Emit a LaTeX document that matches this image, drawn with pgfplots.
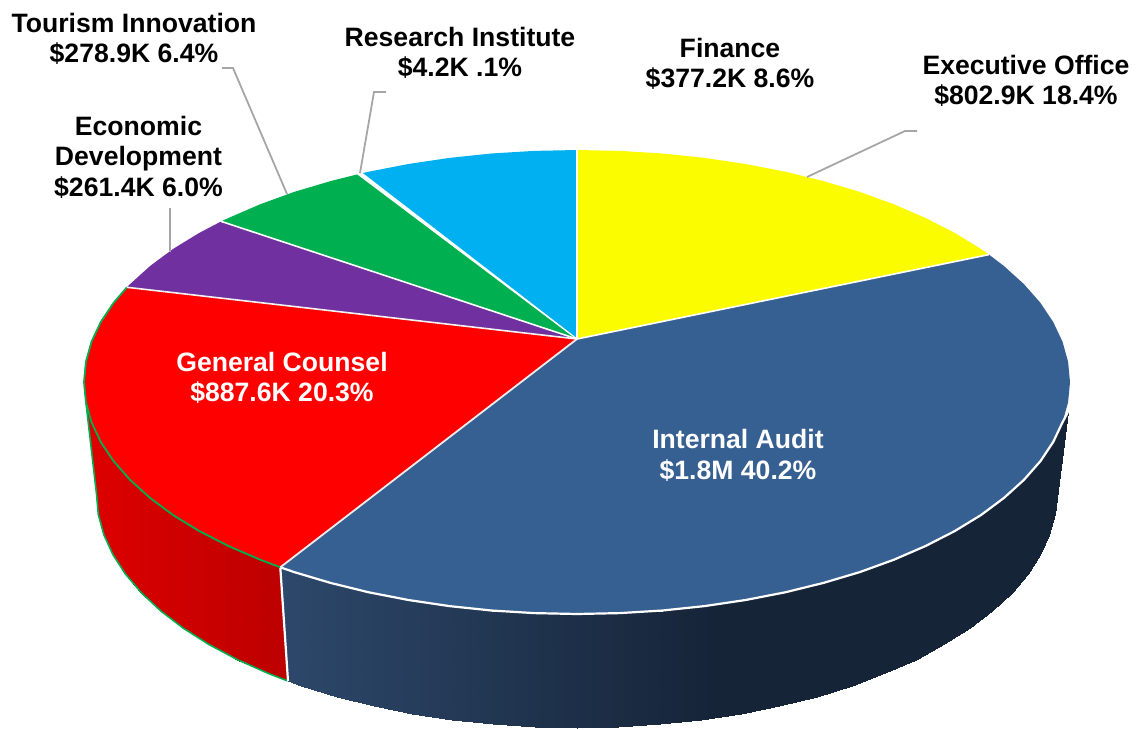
\documentclass[border=0pt]{standalone}
\usepackage{pgfplots}
\pgfplotsset{compat=1.18}
\usepackage{fontspec}
\setmainfont{Liberation Sans}
\definecolor{cYel}{RGB}{252,252,0}
\definecolor{cAud}{RGB}{55,96,146}
\definecolor{cRed}{RGB}{255,0,0}
\definecolor{cPur}{RGB}{112,48,160}
\definecolor{cGrn}{RGB}{0,176,80}
\definecolor{cBlu}{RGB}{0,176,240}
\definecolor{cLead}{RGB}{166,166,166}
\tikzset{lb/.style={align=center, inner sep=0pt, outer sep=0pt, font=\fontsize{26.6}{30.5}\selectfont\bfseries}}
\begin{document}
\begin{tikzpicture}
\begin{axis}[
  hide axis, scale only axis, width=1138pt, height=730pt,
  xmin=0, xmax=1138, ymin=0, ymax=730, y dir=reverse, clip=false, no markers,
  point meta min=85, point meta max=1068,
  colormap={wallblue}{rgb255(0pt)=(45,72,107); rgb255(195pt)=(45,72,107); rgb255(628pt)=(22,36,56); rgb255(983pt)=(22,36,56)},
  colormap={wallred}{rgb255(0pt)=(222,0,0); rgb255(203pt)=(188,0,0); rgb255(983pt)=(188,0,0)},
]
% invisible frame
\addplot[draw=none] coordinates {(0,0) (1138,730)};

% red wall
\addplot[patch, patch type=rectangle, shader=interp, point meta=x,
  colormap name=wallred, table/row sep=\\,
  patch table={0 1 3 2\\ 2 3 5 4\\ 4 5 7 6\\ 6 7 9 8\\ 8 9 11 10\\ 10 11 13 12\\ 12 13 15 14\\ 14 15 17 16\\ 16 17 19 18\\ 18 19 21 20\\ 20 21 23 22\\}] table {
x y\\
85.9 402.2\\
96.5 494\\
88.5 412\\
98.3 514.4\\
91.5 422.3\\
103.8 534.6\\
100.8 442\\
112.9 554.6\\
113.7 461.3\\
125.4 574\\
130.2 480\\
141.5 592.9\\
150.1 498\\
160.8 611\\
173.1 515.1\\
183.3 628.2\\
199.3 531.1\\
208.8 644.4\\
228.4 546\\
237.1 659.5\\
260.1 559.7\\
268 673.3\\
280.3 567.3\\
287.6 680.9\\
};
% green outline of the red wall
\addplot[draw=cGrn, line width=1.6pt] coordinates {
(85.9,402.2) (96.5,494) (98.3,514.4) (103.8,534.6) (112.9,554.6) (125.4,574) (141.5,592.9) (160.8,611) (183.3,628.2) (208.8,644.4) (237.1,659.5) (268,673.3) (287.6,680.9)};

% blue wall
\addplot[patch, patch type=rectangle, shader=interp, point meta=x,
  colormap name=wallblue, table/row sep=\\,
  patch table={0 1 3 2\\ 2 3 5 4\\ 4 5 7 6\\ 6 7 9 8\\ 8 9 11 10\\ 10 11 13 12\\ 12 13 15 14\\ 14 15 17 16\\ 16 17 19 18\\ 18 19 21 20\\ 20 21 23 22\\ 22 23 25 24\\ 24 25 27 26\\ 26 27 29 28\\ 28 29 31 30\\ 30 31 33 32\\ 32 33 35 34\\ 34 35 37 36\\ 36 37 39 38\\ 38 39 41 40\\ 40 41 43 42\\ 42 43 45 44\\ 44 45 47 46\\ 46 47 49 48\\ 48 49 51 50\\ 50 51 53 52\\}] table {
x y\\
280.3 567.3\\
287.6 680.9\\
294.2 572.1\\
301.2 685.7\\
330.5 582.9\\
336.5 696.6\\
368.7 592.3\\
373.6 706.1\\
408.4 600\\
412.3 713.9\\
449.4 606.1\\
452.3 720\\
491.4 610.5\\
493.1 724.4\\
534 613.1\\
534.7 727.1\\
577 614\\
576.5 728\\
620 613.1\\
618.3 727.1\\
662.6 610.5\\
659.9 724.4\\
704.6 606.1\\
700.7 720\\
745.6 600\\
740.7 713.9\\
785.3 592.3\\
779.4 706.1\\
823.5 582.9\\
816.5 696.6\\
859.8 572.1\\
851.8 685.7\\
893.9 559.7\\
885 673.3\\
925.6 546\\
915.9 659.5\\
954.7 531.1\\
944.2 644.4\\
980.9 515.1\\
969.7 628.2\\
1003.9 498\\
992.2 611\\
1023.8 480\\
1011.5 592.9\\
1040.3 461.3\\
1027.6 574\\
1053.2 442\\
1040.1 554.6\\
1062.5 422.3\\
1049.2 534.6\\
1065.5 417\\
1054.7 514.4\\
1068 412\\
1056.5 494\\
};
% white edge between the walls
\addplot[draw=white, line width=2.2pt] coordinates {(280.3,567.3) (288,681)};

% Internal Audit top
\addplot[fill=cAud, draw=none] coordinates {
(577,339) (989,254.6) (1003.9,266) (1023.8,284) (1040.3,302.7) (1053.2,322) (1062.5,341.7) (1068.1,361.8) (1070,382)
(1068.1,402.2) (1062.5,422.3) (1053.2,442) (1040.3,461.3) (1023.8,480) (1003.9,498) (980.9,515.1) (954.7,531.1) (925.6,546) (893.9,559.7) (859.8,572.1) (823.5,582.9) (785.3,592.3) (745.6,600) (704.6,606.1) (662.6,610.5) (620,613.1) (577,614) (534,613.1) (491.4,610.5) (449.4,606.1) (408.4,600) (368.7,592.3) (330.5,582.9) (294.2,572.1) (280.3,567.3) (577,339)};
\addplot[draw=white, line width=2.2pt] coordinates {
(1068,412) (1062.5,422.3) (1053.2,442) (1040.3,461.3) (1023.8,480) (1003.9,498) (980.9,515.1) (954.7,531.1) (925.6,546) (893.9,559.7) (859.8,572.1) (823.5,582.9) (785.3,592.3) (745.6,600) (704.6,606.1) (662.6,610.5) (620,613.1) (577,614) (534,613.1) (491.4,610.5) (449.4,606.1) (408.4,600) (368.7,592.3) (330.5,582.9) (294.2,572.1) (280.3,567.3)};

% General Counsel top
\addplot[fill=cRed, draw=none] coordinates {
(577,339) (280.3,567.3) (260.1,559.7) (228.4,546) (199.3,531.1) (173.1,515.1) (150.1,498) (130.2,480) (113.7,461.3) (100.8,442) (91.5,422.3) (85.9,402.2) (84,382) (85.9,361.8) (91.5,341.7) (100.8,322) (113.7,302.7) (126.9,287.3) (577,339)};
\addplot[draw=cGrn, line width=1.8pt] coordinates {
(280.3,567.3) (260.1,559.7) (228.4,546) (199.3,531.1) (173.1,515.1) (150.1,498) (130.2,480) (113.7,461.3) (100.8,442) (91.5,422.3) (85.9,402.2) (84,382) (85.9,361.8) (91.5,341.7) (100.8,322) (113.7,302.7) (126.9,287.3)};

% Economic Development top
\addplot[fill=cPur, draw=none] coordinates {
(577,339) (126.9,287.3) (130.2,284) (150.1,266) (173.1,248.9) (199.3,232.9) (221.2,221.4) (577,339)};
% Tourism Innovation top
\addplot[fill=cGrn, draw=none] coordinates {
(577,339) (221.2,221.4) (228.4,218) (260.1,204.3) (294.2,191.9) (330.5,181.1) (358,174.2) (577,339)};
% Finance (light blue) top
\addplot[fill=cBlu, draw=none] coordinates {
(577,339) (360,173.7) (368.7,171.7) (408.4,164) (449.4,157.9) (491.4,153.5) (534,150.9) (577,150) (577,339)};
% Executive Office top
\addplot[fill=cYel, draw=none] coordinates {
(577,339) (577,150) (620,150.9) (662.6,153.5) (704.6,157.9) (745.6,164) (785.3,171.7) (823.5,181.1) (859.8,191.9) (893.9,204.3) (925.6,218) (954.7,232.9) (980.9,248.9) (989,254.6) (577,339)};

% white separators
\addplot[draw=white, line width=1.6pt] coordinates {(577,339) (989,254.6)};
\addplot[draw=white!85!gray, line width=1.8pt] coordinates {(577,339) (280.3,567.3)};
\addplot[draw=white!90!gray, line width=1.6pt] coordinates {(577,339) (126.9,287.3)};
\addplot[draw=white, line width=1.6pt] coordinates {(577,339) (221.2,221.4)};
% Research Institute: a sliver between two slices
\addplot[fill=white, draw=white, line width=1.2pt] coordinates {(577,339) (358,174.2) (362,173.3) (577,339)};
\addplot[draw=white, line width=1.4pt] coordinates {(577,339) (577,150)};

% leader lines
\addplot[draw=cLead, line width=1.8pt] coordinates {(222,68) (233,68) (287,194)};
\addplot[draw=cLead, line width=1.8pt] coordinates {(386,92) (374,92) (360,173)};
\addplot[draw=cLead, line width=1.8pt] coordinates {(170,208) (170,252)};
\addplot[draw=cLead, line width=1.8pt] coordinates {(917,131) (905,131) (807,177)};

% labels
\node[lb] at (axis cs:134,39) {Tourism Innovation\\\$278.9K 6.4\%};
\node[lb] at (axis cs:460,53) {Research Institute\\\$4.2K .1\%};
\node[lb] at (axis cs:730,64) {Finance\\\$377.2K 8.6\%};
\node[lb] at (axis cs:1026,81) {Executive Office\\\$802.9K 18.4\%};
\node[lb] at (axis cs:138.5,157) {Economic\\Development\\\$261.4K 6.0\%};
\node[lb,text=white] at (axis cs:282,378) {General Counsel\\\$887.6K 20.3\%};
\node[lb,text=white] at (axis cs:738,455.5) {Internal Audit\\\$1.8M 40.2\%};
\end{axis}
\end{tikzpicture}
\end{document}
